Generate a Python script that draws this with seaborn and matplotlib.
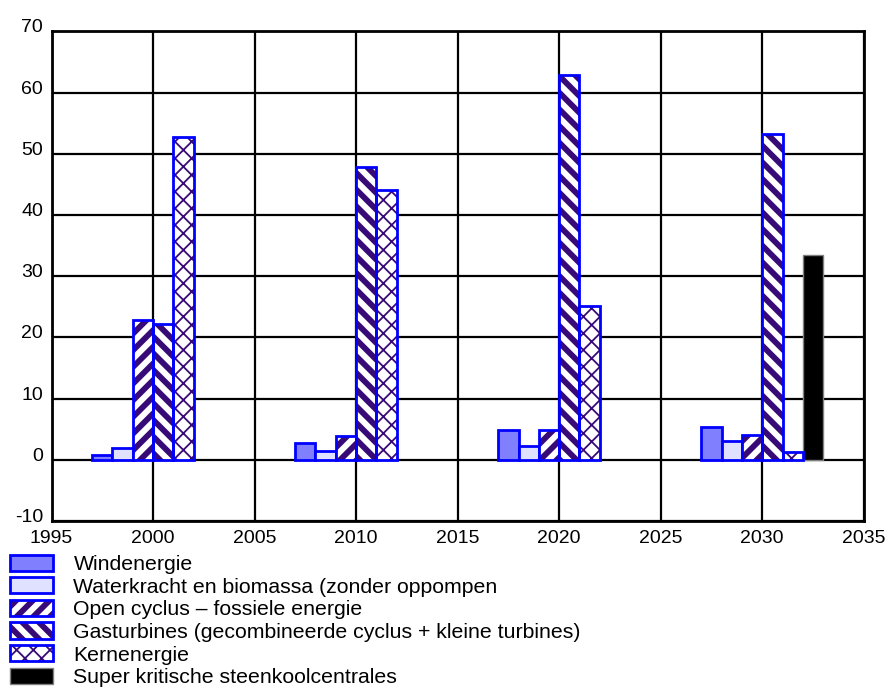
import matplotlib
matplotlib.use("Agg")
import matplotlib.pyplot as plt
from matplotlib.patches import Patch, Rectangle
from matplotlib.legend_handler import HandlerTuple
from matplotlib.transforms import ScaledTranslation
import seaborn as sns
import pandas as pd

# Installed capacity per source (GW) for each milestone year
years = [2000, 2010, 2020, 2030]
sources = [
    "Windenergie",
    "Waterkracht en biomassa (zonder oppompen",
    "Open cyclus – fossiele energie",
    "Gasturbines (gecombineerde cyclus + kleine turbines)",
    "Kernenergie",
    "Super kritische steenkoolcentrales",
]
wind = [0.7, 2.8, 4.8, 5.3]
water_bio = [1.9, 1.5, 2.3, 3.0]
open_cycle = [22.9, 3.9, 4.9, 4.1]
gas_turbines = [22.2, 47.9, 62.8, 53.2]
nuclear = [52.7, 44.0, 25.1, 1.3]
coal = [None, None, None, 33.4]

series = [wind, water_bio, open_cycle, gas_turbines, nuclear, coal]

rows = []
for name, vals in zip(sources, series):
    for yr, v in zip(years, vals):
        if v is not None:
            rows.append({"jaar": yr, "bron": name, "waarde": v})
df = pd.DataFrame(rows)

# Appearance of each source: (fill, hatch, hatch colour, hatch width, outline, outline width)
BLUE = "#0000FF"
PURPLE = "#380A78"
styles = [
    ("#8080FF", None, None, 0, BLUE, 2.0),
    ("#E0E0FF", None, None, 0, BLUE, 2.0),
    ("white", "//", PURPLE, 4.2, BLUE, 2.0),
    ("white", "\\\\", PURPLE, 4.2, BLUE, 2.0),
    ("white", "xx", PURPLE, 1.3, BLUE, 2.0),
    ("black", None, None, 0, "#808080", 1.0),
]
hatch_widths = {s[1]: s[3] for s in styles if s[1]}

sns.set_theme(style="white")
plt.rcParams["font.family"] = ["Liberation Sans", "DejaVu Sans"]
plt.rcParams["axes.unicode_minus"] = False
plt.rcParams["text.color"] = "black"

fig = plt.figure(figsize=(8.85, 6.89), dpi=100)
ax = fig.add_axes([0.0582, 0.244, 0.9178, 0.7105])

sns.barplot(data=df, x="jaar", y="waarde", hue="bron", hue_order=sources,
            native_scale=True, width=0.6, dodge=True, errorbar=None,
            legend=False, ax=ax, zorder=3)

for cont, (fc, hatch, hc, hlw, ec, elw) in zip(ax.containers, styles):
    for bar in cont:
        x, y = bar.get_xy()
        w, h = bar.get_width(), bar.get_height()
        if hatch:
            bar.set_facecolor(fc)
            bar.set_edgecolor(hc)
            bar.set_hatch(hatch)
            bar.set_linewidth(0)
            if hasattr(bar, "set_hatch_linewidth"):
                bar.set_hatch_linewidth(hlw)
            ax.add_patch(Rectangle((x, y), w, h, fill=False, edgecolor=ec,
                                   linewidth=elw, zorder=4))
        else:
            bar.set_facecolor(fc)
            bar.set_edgecolor(ec)
            bar.set_linewidth(elw)

ax.set_xlim(1995, 2035)
ax.set_ylim(-10, 70)
ax.set_xticks(range(1995, 2036, 5))
ax.set_yticks(range(-10, 71, 10))
ax.set_xlabel("")
ax.set_ylabel("")
ax.set_axisbelow(True)
ax.grid(True, color="black", linewidth=1.6)
for sp in ax.spines.values():
    sp.set_visible(True)
    sp.set_color("black")
    sp.set_linewidth(2.0)
ax.tick_params(axis="both", length=0, labelsize=14, colors="black")
ax.tick_params(axis="x", pad=6.5)
ax.tick_params(axis="y", pad=6)

# Value labels sit a little above their grid lines
lift = ScaledTranslation(0, 0.055, fig.dpi_scale_trans)
for lbl in ax.get_yticklabels():
    lbl.set_transform(lbl.get_transform() + lift)

# Legend handles built from the same styles
handles = []
for fc, hatch, hc, hlw, ec, elw in styles:
    if hatch:
        hp = Patch(facecolor=fc, edgecolor=hc, hatch=hatch, linewidth=0)
        handles.append((hp, Patch(fill=False, edgecolor=ec, linewidth=elw)))
    else:
        handles.append(Patch(facecolor=fc, edgecolor=ec, linewidth=elw))

leg = fig.legend(handles, sources, loc="upper left",
                 bbox_to_anchor=(0.011, 0.195), frameon=False,
                 handler_map={tuple: HandlerTuple(ndivide=1, pad=0)},
                 fontsize=15.3, handlelength=2.05, handleheight=0.8,
                 handletextpad=0.95, labelspacing=0.145, borderpad=0,
                 borderaxespad=0)

# Give the legend swatches the same stripe thickness as the bars
for art in leg.findobj(Rectangle):
    h = art.get_hatch()
    if h in hatch_widths and hasattr(art, "set_hatch_linewidth"):
        art.set_hatch_linewidth(hatch_widths[h])

fig.savefig("out.png", dpi=100, facecolor="white")
